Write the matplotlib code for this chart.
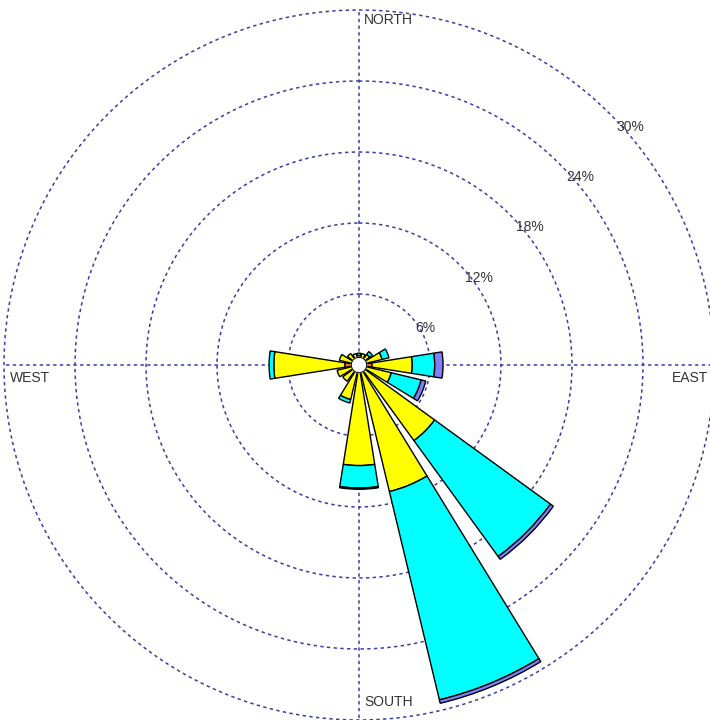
import numpy as np
import matplotlib
matplotlib.use("Agg")
import matplotlib.pyplot as plt


# 16 compass sectors, percentage of time in each speed class
directions = ["N", "NNE", "NE", "ENE", "E", "ESE", "SE", "SSE",
              "S", "SSW", "SW", "WSW", "W", "WNW", "NW", "NNW"]
bearings = np.arange(16) * 22.5

speed_bin1 = [0.0, 0.0, 0.0, 0.0, 1.1, 0.0, 0.0, 0.0, 0.0, 0.0, 0.0, 0.0, 1.2, 0.0, 0.0, 0.0]
speed_bin2 = [0.8, 1.0, 1.1, 2.0, 3.4, 2.8, 7.9, 11.0, 8.5, 3.0, 1.7, 1.9, 6.0, 1.7, 1.2, 1.0]
speed_bin3 = [0.2, 0.0, 0.3, 0.6, 1.9, 2.6, 12.1, 18.1, 1.9, 0.3, 0.0, 0.0, 0.4, 0.0, 0.0, 0.0]
speed_bin4 = [0.0, 0.0, 0.0, 0.0, 0.7, 0.4, 0.3, 0.3, 0.1, 0.0, 0.0, 0.0, 0.0, 0.0, 0.0, 0.0]

bin_colors = ["#ff8000", "#ffff00", "#00ffff", "#8080ff"]

ring_levels = [6, 12, 18, 24, 30]
ring_labels = ["6%", "12%", "18%", "24%", "30%"]

GRID_COLOR = "#3c3ca8"
TEXT_COLOR = "#333333"


def draw_grid(ax):
    theta = np.linspace(0, 2 * np.pi, 400)
    for r in ring_levels:
        ax.plot(theta, np.full_like(theta, r), color=GRID_COLOR, lw=1.1,
                ls=(0, (2.2, 2.2)), zorder=1, clip_on=False)
    # N-S and E-W axes
    for ang in [0, 90, 180, 270]:
        ax.plot([np.deg2rad(ang)] * 2, [0, 30], color=GRID_COLOR, lw=1.1,
                ls=(0, (2.2, 2.2)), zorder=1, clip_on=False)


def draw_bars(ax):
    theta = np.deg2rad(bearings)
    width = np.deg2rad(22.5 * 0.8)
    bottom = np.zeros(16)
    for values, color in zip([speed_bin1, speed_bin2, speed_bin3, speed_bin4], bin_colors):
        values = np.array(values)
        mask = values > 0
        ax.bar(theta[mask], values[mask], width=width, bottom=bottom[mask],
               color=color, edgecolor="black", linewidth=1.0, zorder=3)
        bottom = bottom + values
    # blank hole in the middle
    t = np.linspace(0, 2 * np.pi, 200)
    ax.fill(t, np.full_like(t, 0.65), color="white", zorder=4)
    ax.plot(t, np.full_like(t, 0.65), color="black", lw=0.7, zorder=5)


def draw_labels(ax):
    kw = dict(textcoords="offset pixels", fontsize=10, color=TEXT_COLOR,
              family=["Liberation Sans", "DejaVu Sans"], zorder=6,
              annotation_clip=False)
    ax.annotate("NORTH", xy=(0, 30), xytext=(5, -10), ha="left", va="center", **kw)
    ax.annotate("SOUTH", xy=(np.pi, 30), xytext=(5, 18), ha="left", va="center", **kw)
    ax.annotate("WEST", xy=(1.5 * np.pi, 30), xytext=(6, -13), ha="left", va="center", **kw)
    ax.annotate("EAST", xy=(0.5 * np.pi, 30), xytext=(-6, -13), ha="right", va="center", **kw)
    for r, lab in zip(ring_levels, ring_labels):
        ax.annotate(lab, xy=(np.deg2rad(45), r), xytext=(6, -6),
                    ha="left", va="top", **kw)


def main():
    fig = plt.figure(figsize=(7.1, 7.2), dpi=100)
    ax = fig.add_axes([4 / 710, 0.0, 1.0, 710 / 720], projection="polar")
    ax.set_theta_zero_location("N")
    ax.set_theta_direction(-1)
    ax.set_ylim(0, 30)
    ax.grid(False)
    ax.set_xticks([])
    ax.set_yticks([])
    ax.spines["polar"].set_visible(False)

    draw_grid(ax)
    draw_bars(ax)
    draw_labels(ax)

    fig.savefig("out.png", dpi=100)


if __name__ == "__main__":
    main()
